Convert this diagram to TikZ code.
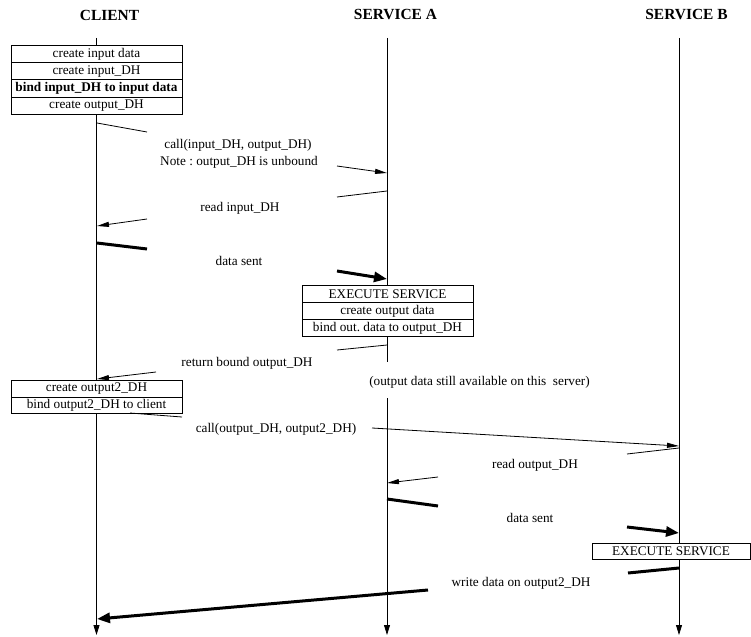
\documentclass[tikz,border=0pt]{standalone}
\usepackage{fontspec}
\setmainfont{Liberation Serif}
\usetikzlibrary{arrows.meta}
\frenchspacing
\begin{document}
\begin{tikzpicture}[x=1bp,y=-1bp,
  lbl/.style={font=\fontsize{13.3}{15}\selectfont\frenchspacing, inner sep=0pt},
  ttl/.style={font=\fontsize{15.5}{18}\selectfont\bfseries, inner sep=0pt},
  cell/.style={draw, fill=white, line width=0.8bp, inner sep=0pt, anchor=north,
    font=\fontsize{13.3}{15}\selectfont\frenchspacing},
  life/.style={line width=0.8bp, -{Triangle[length=10bp,width=6bp]}},
  thinseg/.style={line width=0.8bp},
  thinarr/.style={line width=0.8bp, -{Triangle[length=12bp,width=5bp]}},
  thickseg/.style={line width=3bp},
  thickarr/.style={line width=3bp, -{Triangle[length=13bp,width=10bp]}},
]
\useasboundingbox (0,0) rectangle (751,637);

% titles
\node[ttl] (tC) at (109.5,15) {CLIENT};
\node[ttl] (tA) at (395.5,15) {SERVICE A};
\node[ttl] (tB) at (686.5,15) {SERVICE B};

% lifelines
\coordinate (cTop) at (96.5,38);
\coordinate (cBot) at (96.5,635);
\coordinate (aTop) at (387,38);
\coordinate (aGap1) at (387,362);
\coordinate (aGap2) at (387,398);
\coordinate (aBot) at (387,635);
\coordinate (bTop) at (679,38);
\coordinate (bBot) at (679,635);
\draw[life] (cTop) -- (cBot);
\draw[thinseg] (aTop) -- (aGap1);
\draw[life] (aGap2) -- (aBot);
\draw[life] (bTop) -- (bBot);

% client box 1
\begin{scope}[every node/.append style={cell, minimum width=171bp, minimum height=17.25bp}]
\node (c1) at (96.5,45) {create input data};
\node (c2) at (96.5,62.25) {create input\_DH};
\node[font=\fontsize{13.3}{15}\selectfont\bfseries] (c3) at (96.5,79.5) {bind input\_DH to input data};
\node (c4) at (96.5,96.75) {create output\_DH};
\end{scope}

% arrow 1
\coordinate (a1s) at (97,123);
\coordinate (a1m) at (147,132);
\coordinate (a1n) at (337,166);
\coordinate (a1e) at (387,173);
\draw[thinseg] (a1s) -- (a1m);
\draw[thinarr] (a1n) -- (a1e);
\node[lbl] (l1a) at (238,145) {call(input\_DH, output\_DH)};
\node[lbl] (l1b) at (239,162) {Note : output\_DH is unbound};

% arrow 2
\coordinate (a2s) at (387,191);
\coordinate (a2m) at (337,197);
\coordinate (a2n) at (147,219);
\coordinate (a2e) at (97,226);
\draw[thinseg] (a2s) -- (a2m);
\draw[thinarr] (a2n) -- (a2e);
\node[lbl] (l2) at (240,208) {read input\_DH};

% arrow 3
\coordinate (a3s) at (97,243);
\coordinate (a3m) at (147,249);
\coordinate (a3n) at (337,271);
\coordinate (a3e) at (387,279);
\draw[thickseg] (a3s) -- (a3m);
\draw[thickarr] (a3n) -- (a3e);
\node[lbl] (l3) at (239,261) {data sent};

% service A box
\begin{scope}[every node/.append style={cell, minimum width=171bp, minimum height=17bp}]
\node (s1) at (387.5,285) {EXECUTE SERVICE};
\node (s2) at (387.5,302) {create output data};
\node (s3) at (387.5,319) {bind out. data to output\_DH};
\end{scope}

% arrow 4
\coordinate (a4s) at (387,345);
\coordinate (a4m) at (337,350);
\coordinate (a4n) at (156,372);
\coordinate (a4e) at (97,379);
\draw[thinseg] (a4s) -- (a4m);
\draw[thinarr] (a4n) -- (a4e);
\node[lbl] (l4) at (247,363) {return bound output\_DH};

\node[lbl] (note) at (479.5,382) {(output data still available on this \ server)};

% client box 2
\begin{scope}[every node/.append style={cell, minimum width=171bp, minimum height=16.5bp}]
\node (d1) at (96.5,380) {create output2\_DH};
\node (d2) at (96.5,396.5) {bind output2\_DH to client};
\end{scope}

% arrow 5
\coordinate (a5s) at (130,413);
\coordinate (a5m) at (182,417);
\coordinate (a5n) at (372,428);
\coordinate (a5e) at (679,446);
\draw[thinseg] (a5s) -- (a5m);
\draw[thinarr] (a5n) -- (a5e);
\node[lbl] (l5) at (276,429) {call(output\_DH, output2\_DH)};

% arrow 6
\coordinate (a6s) at (679,448);
\coordinate (a6m) at (627,454);
\coordinate (a6n) at (438,477);
\coordinate (a6e) at (387,483);
\draw[thinseg] (a6s) -- (a6m);
\draw[thinarr] (a6n) -- (a6e);
\node[lbl] (l6) at (535,465) {read output\_DH};

% arrow 7
\coordinate (a7s) at (387,499);
\coordinate (a7m) at (438,506);
\coordinate (a7n) at (627,527);
\coordinate (a7e) at (679,533);
\draw[thickseg] (a7s) -- (a7m);
\draw[thickarr] (a7n) -- (a7e);
\node[lbl] (l7) at (530,518) {data sent};

% service B box
\node[cell, minimum width=158bp, minimum height=16bp] (e1) at (671,543) {EXECUTE SERVICE};

% arrow 8
\coordinate (a8s) at (679,568);
\coordinate (a8m) at (628,573);
\coordinate (a8n) at (428,590);
\coordinate (a8e) at (97,619);
\draw[thickseg] (a8s) -- (a8m);
\draw[thickarr] (a8n) -- (a8e);
\node[lbl] (l8) at (521,583) {write data on output2\_DH};
\end{tikzpicture}
\end{document}
